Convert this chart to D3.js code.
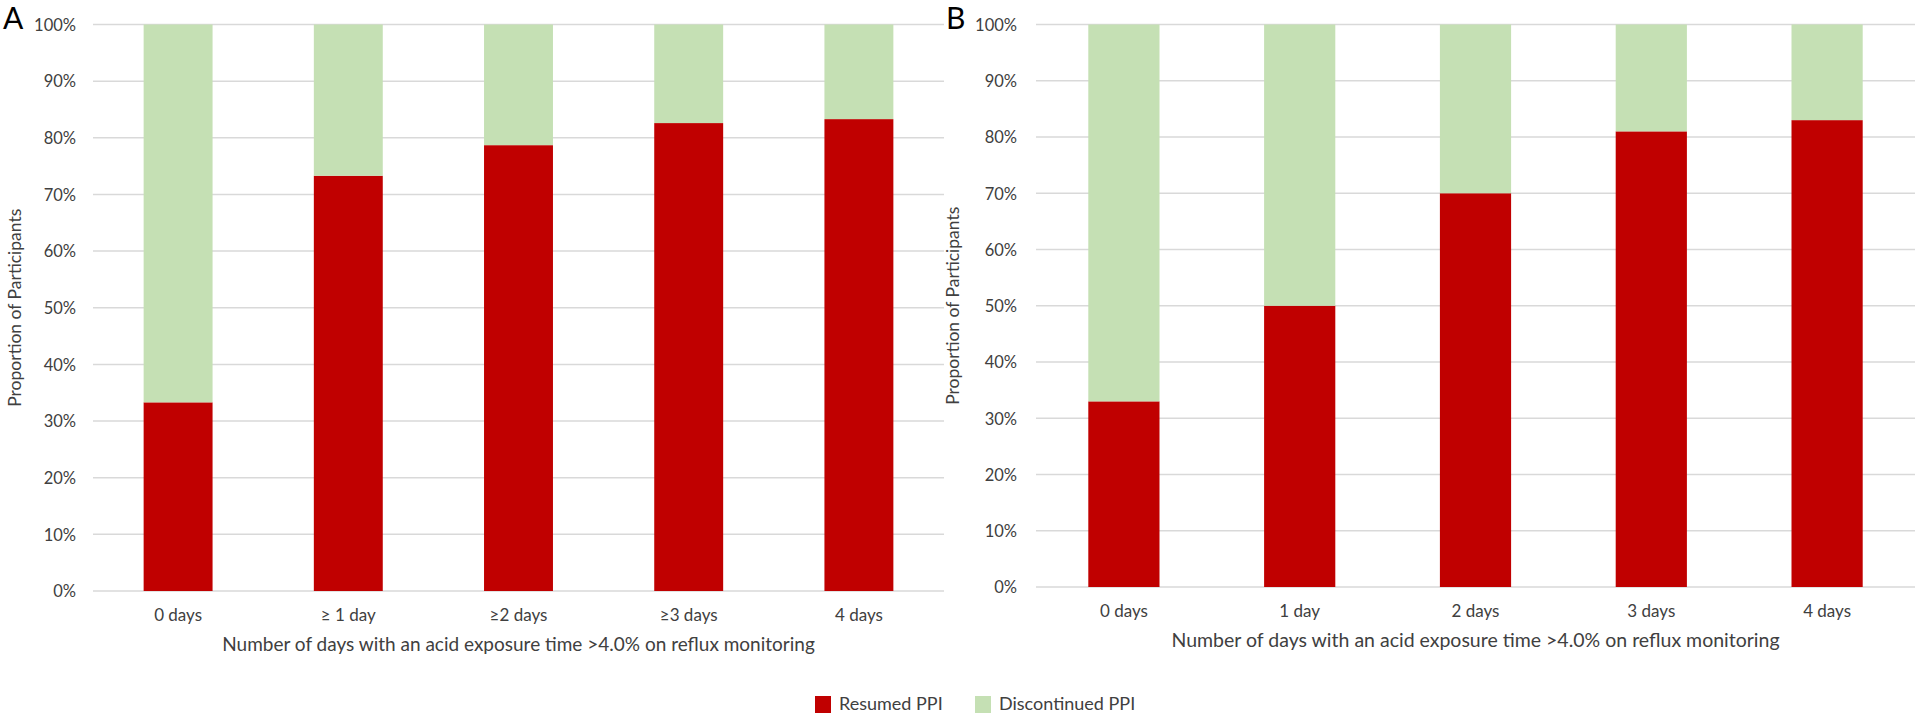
<!DOCTYPE html>
<html>
<head>
<meta charset="utf-8">
<script src="https://cdn.jsdelivr.net/npm/d3@7"></script>
<style>
  html, body { margin: 0; padding: 0; background: #fff; }
  svg { display: block; }
  text { font-family: Lato, "Open Sans", sans-serif; fill: #404040; }
</style>
</head>
<body>
<svg id="chart" width="1920" height="719"></svg>
<script>
// ---- Data ----
const categoriesA = ["0 days", "\u2265 1 day", "\u22652 days", "\u22653 days", "4 days"];
const resumedA = [33.3, 73.3, 78.7, 82.6, 83.3];
const discontinuedA = [66.7, 26.7, 21.3, 17.4, 16.7];

const categoriesB = ["0 days", "1 day", "2 days", "3 days", "4 days"];
const resumedB = [33, 50, 70, 81, 83];
const discontinuedB = [67, 50, 30, 19, 17];

const yTicks = [0, 10, 20, 30, 40, 50, 60, 70, 80, 90, 100];
const seriesNames = ["Resumed PPI", "Discontinued PPI"];
const colors = { "Resumed PPI": "#C00000", "Discontinued PPI": "#C5E0B4" };

const xTitle = "Number of days with an acid exposure time >4.0% on reflux monitoring";
const yTitle = "Proportion of Participants";

const svg = d3.select("#chart");

function panel(cfg) {
  const { letter, letterX, cats, resumed, discontinued, x0, x1, y0, y1, tickRight, yTitleX, xTitleSize } = cfg;
  const g = svg.append("g");
  const rows = cats.map((c, i) => ({ cat: c, "Resumed PPI": resumed[i], "Discontinued PPI": discontinued[i] }));
  const x = d3.scaleBand().domain(cats).range([x0, x1]).paddingInner(0.595).paddingOuter(0.2975);
  const y = d3.scaleLinear().domain([0, 100]).range([y1, y0]);

  // gridlines
  g.append("g").selectAll("line").data(yTicks).join("line")
    .attr("x1", x0).attr("x2", x1)
    .attr("y1", d => y(d)).attr("y2", d => y(d))
    .attr("stroke", "#D9D9D9").attr("stroke-width", 1.5);

  // y tick labels
  const yAxis = d3.axisLeft(y).tickValues(yTicks).tickFormat(d => d + "%").tickSize(0).tickPadding(0);
  const ya = g.append("g").attr("transform", `translate(${tickRight},0)`).call(yAxis);
  ya.select(".domain").remove();
  ya.selectAll("text").style("font-size", "16.5px").style("fill", "#404040")
    .style("font-family", "Lato, sans-serif").attr("dy", "0.35em");

  // stacked bars
  const stack = d3.stack().keys(seriesNames)(rows);
  g.append("g").selectAll("g").data(stack).join("g")
    .attr("fill", d => colors[d.key])
    .selectAll("rect").data(d => d).join("rect")
    .attr("x", d => x(d.data.cat))
    .attr("width", x.bandwidth())
    .attr("y", d => y(d[1]))
    .attr("height", d => y(d[0]) - y(d[1]));

  // x tick labels
  const xAxis = d3.axisBottom(x).tickSize(0).tickPadding(0);
  const xa = g.append("g").attr("transform", `translate(0,${y1 + 24})`).call(xAxis);
  xa.select(".domain").remove();
  xa.selectAll("text").style("font-size", "17px").style("fill", "#404040")
    .style("font-family", "Lato, sans-serif").attr("dy", "0.35em").attr("y", 0);

  // x title
  g.append("text").attr("x", (x0 + x1) / 2).attr("y", y1 + 55)
    .attr("text-anchor", "middle").attr("dominant-baseline", "middle")
    .style("font-size", xTitleSize + "px").text(xTitle);

  // y title
  g.append("text")
    .attr("transform", `translate(${yTitleX},${(y0 + y1) / 2}) rotate(-90)`)
    .attr("text-anchor", "middle").attr("dominant-baseline", "middle")
    .style("font-size", "17.5px").text(yTitle);

  // panel letter
  g.append("text").attr("x", letterX).attr("y", 29)
    .style("font-size", "30px").style("fill", "#000").text(letter);
}

panel({ letter: "A", letterX: 3, cats: categoriesA, resumed: resumedA, discontinued: discontinuedA,
        x0: 93, x1: 944, y0: 24.5, y1: 591, tickRight: 76, yTitleX: 17, xTitleSize: 19 });
panel({ letter: "B", letterX: 946, cats: categoriesB, resumed: resumedB, discontinued: discontinuedB,
        x0: 1036, x1: 1915, y0: 24.5, y1: 587, tickRight: 1017, yTitleX: 955, xTitleSize: 19.5 });

// legend
const legend = svg.append("g");
const legendItems = [
  { name: "Resumed PPI", x: 815 },
  { name: "Discontinued PPI", x: 975 }
];
legendItems.forEach(it => {
  legend.append("rect").attr("x", it.x).attr("y", 696).attr("width", 16).attr("height", 17)
    .attr("fill", colors[it.name]);
  legend.append("text").attr("x", it.x + 24).attr("y", 705)
    .attr("dominant-baseline", "middle").style("font-size", "18px").text(it.name);
});
</script>
</body>
</html>
